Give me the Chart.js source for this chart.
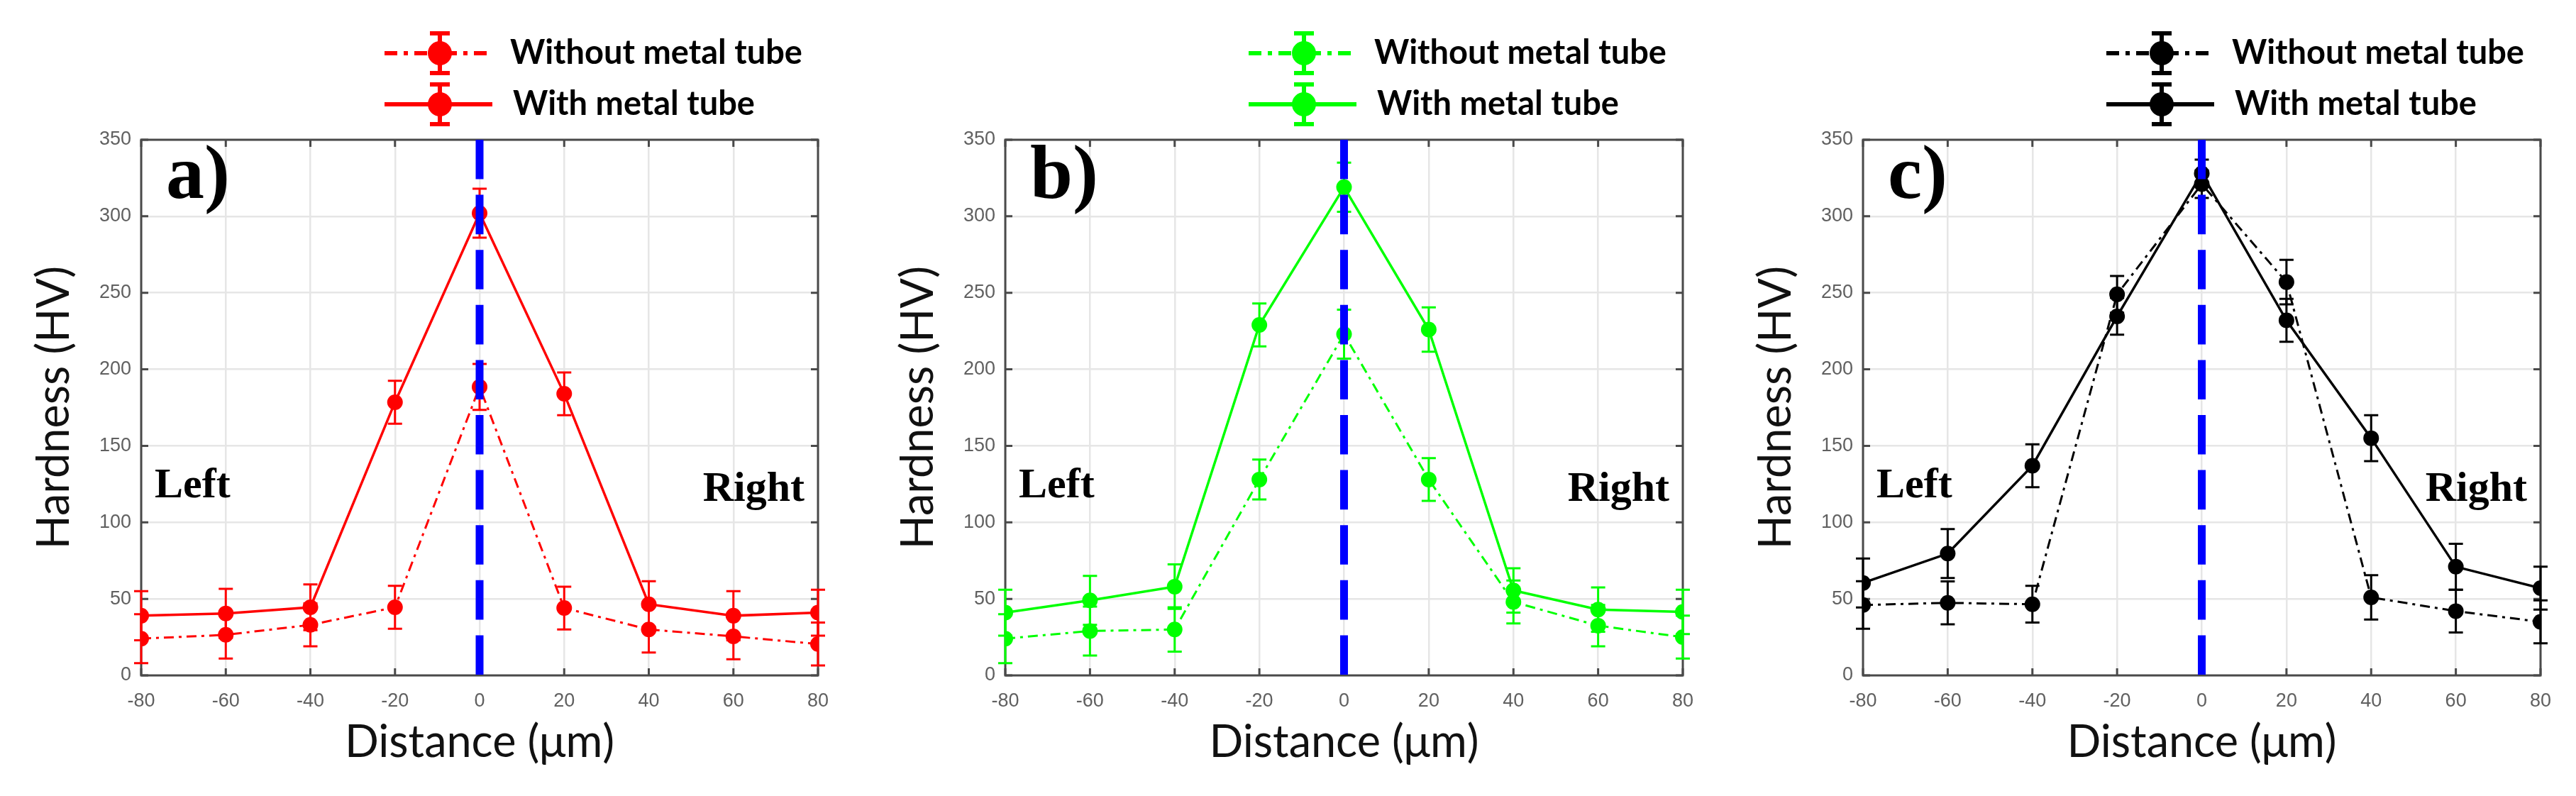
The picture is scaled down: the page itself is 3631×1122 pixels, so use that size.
<!DOCTYPE html>
<html lang="en">
<head>
    <meta charset="UTF-8">
    <title>Hardness profiles</title>
    <style>
        body { margin: 0; background: #fff; width: 3631px; height: 1122px; overflow: hidden; }
        .panel { position: absolute; top: 0; }
    </style>
</head>
<body>
    <canvas id="chartA" class="panel" width="1210" height="1122" style="left:0px"></canvas>
    <canvas id="chartB" class="panel" width="1210" height="1122" style="left:1210px"></canvas>
    <canvas id="chartC" class="panel" width="1211" height="1122" style="left:2420px"></canvas>

    <script src="https://cdn.jsdelivr.net/npm/chart.js@4"></script>
    <script>
        // --- data ---
        const distance = [-80, -60, -40, -20, 0, 20, 40, 60, 80];
        const xTicks = [-80, -60, -40, -20, 0, 20, 40, 60, 80];
        const yTicks = [0, 50, 100, 150, 200, 250, 300, 350];

        // a) red
        const withoutA = [24, 26.5, 33, 44.5, 188.5, 44, 30, 25.5, 20.5];
        const withoutErrA = [16, 15.5, 14, 14, 15, 14, 15, 15, 14];
        const withA = [39, 40.5, 44.5, 178.5, 302, 184, 46.5, 39, 41];
        const withErrA = [16, 16, 15, 14, 16, 14, 15, 16, 15];

        // b) green
        const withoutB = [24, 29, 30, 128, 223, 128, 48, 32.5, 25];
        const withoutErrB = [16, 16, 14.5, 13, 16, 14, 14, 13.5, 14];
        const withB = [41, 49, 58, 229, 319, 226, 55.5, 43, 41.5];
        const withErrB = [15, 16, 14.5, 14, 16, 14.5, 14.5, 14.5, 14.5];

        // c) black
        const withoutC = [46, 47.4, 46.5, 249, 321, 257, 51, 42, 35];
        const withoutErrC = [15.5, 14, 12, 12, 9, 14.5, 14.5, 14, 14];
        const withC = [60.4, 79.6, 137, 234.6, 328, 232, 155, 71, 57];
        const withErrC = [16, 16, 14, 12, 9, 14, 15, 15, 14];

        const panels = [
            { id: 'chartA', tag: 'a)', color: '#ff0000', without: withoutA, withoutErr: withoutErrA, with: withA, withErr: withErrA, yWidth: 199, padRight: 57 },
            { id: 'chartB', tag: 'b)', color: '#00ff00', without: withoutB, withoutErr: withoutErrB, with: withB, withErr: withErrB, yWidth: 207, padRight: 48 },
            { id: 'chartC', tag: 'c)', color: '#000000', without: withoutC, withoutErr: withoutErrC, with: withC, withErr: withErrC, yWidth: 206, padRight: 50 }
        ];

        const DASH_DOT = [14, 7, 4, 7];
        const SANS = 'Lato, "Open Sans", sans-serif';
        const SERIF = '"Liberation Serif", "DejaVu Serif", serif';

        // error bars, drawn right after their own dataset
        const errorBars = {
            id: 'errorBars',
            afterDatasetDraw(chart, args) {
                const ds = chart.data.datasets[args.index];
                if (!ds.errors) return;
                const { ctx, scales: { x, y } } = chart;
                ctx.save();
                ctx.strokeStyle = ds.borderColor;
                ctx.lineWidth = 3;
                ctx.setLineDash([]);
                ds.data.forEach((pt, j) => {
                    const px = x.getPixelForValue(pt.x);
                    const top = y.getPixelForValue(pt.y + ds.errors[j]);
                    const bot = y.getPixelForValue(pt.y - ds.errors[j]);
                    ctx.beginPath();
                    ctx.moveTo(px, top); ctx.lineTo(px, bot);
                    ctx.moveTo(px - 10, top); ctx.lineTo(px + 10, top);
                    ctx.moveTo(px - 10, bot); ctx.lineTo(px + 10, bot);
                    ctx.stroke();
                });
                ctx.restore();
            }
        };

        // matlab style box with inward ticks
        const axesBox = {
            id: 'axesBox',
            beforeDatasetsDraw(chart) {
                const { ctx, chartArea: a, scales: { x, y } } = chart;
                ctx.save();
                ctx.strokeStyle = '#4a4a4a';
                ctx.lineWidth = 3;
                ctx.beginPath();
                x.ticks.forEach(t => {
                    const px = x.getPixelForValue(t.value);
                    ctx.moveTo(px, a.bottom); ctx.lineTo(px, a.bottom - 10);
                    ctx.moveTo(px, a.top); ctx.lineTo(px, a.top + 10);
                });
                y.ticks.forEach(t => {
                    const py = y.getPixelForValue(t.value);
                    ctx.moveTo(a.left, py); ctx.lineTo(a.left + 10, py);
                    ctx.moveTo(a.right, py); ctx.lineTo(a.right - 10, py);
                });
                ctx.stroke();
                ctx.strokeRect(a.left, a.top, a.right - a.left, a.bottom - a.top);
                ctx.restore();
            }
        };

        // legend with error-bar symbols, and the a)/Left/Right texts
        const annotations = {
            id: 'annotations',
            afterDraw(chart, args, opts) {
                const { ctx, chartArea: a } = chart;
                ctx.save();
                const rows = chart.data.datasets.filter(d => d.label);
                rows.forEach((ds, i) => {
                    const cy = a.top - 122 + i * 72;
                    const x0 = a.left + 343, x1 = a.left + 495, cx = a.left + 421;
                    ctx.strokeStyle = ds.borderColor;
                    ctx.fillStyle = ds.borderColor;
                    ctx.lineWidth = 6;
                    ctx.setLineDash(ds.borderDash && ds.borderDash.length ? [18, 9, 6, 9] : []);
                    ctx.beginPath(); ctx.moveTo(x0, cy); ctx.lineTo(x1, cy); ctx.stroke();
                    ctx.setLineDash([]);
                    ctx.beginPath();
                    ctx.moveTo(cx, cy - 28); ctx.lineTo(cx, cy + 28);
                    ctx.moveTo(cx - 14, cy - 28); ctx.lineTo(cx + 14, cy - 28);
                    ctx.moveTo(cx - 14, cy + 28); ctx.lineTo(cx + 14, cy + 28);
                    ctx.stroke();
                    ctx.beginPath(); ctx.arc(cx, cy, 17, 0, Math.PI * 2); ctx.fill();
                    ctx.fillStyle = '#000';
                    ctx.font = 'bold 47px ' + SANS;
                    ctx.textAlign = 'left';
                    ctx.textBaseline = 'middle';
                    ctx.fillText(ds.label, a.left + 520 + i * 4, cy);
                });
                ctx.fillStyle = '#000';
                ctx.font = 'bold 108px ' + SERIF;
                ctx.textBaseline = 'alphabetic';
                ctx.textAlign = 'left';
                ctx.fillText(opts.tag, a.left + 35, a.top + 82);
                ctx.font = 'bold 60px ' + SERIF;
                ctx.textBaseline = 'middle';
                ctx.fillText('Left', a.left + 19, 685);
                ctx.textAlign = 'right';
                ctx.fillText('Right', a.right - 19, 690);
                ctx.restore();
            }
        };

        const toPoints = vals => distance.map((d, i) => ({ x: d, y: vals[i] }));

        panels.forEach(p => {
            const ctx = document.getElementById(p.id).getContext('2d');
            new Chart(ctx, {
                type: 'line',
                data: {
                    datasets: [
                        {
                            label: 'Without metal tube',
                            data: toPoints(p.without),
                            errors: p.withoutErr,
                            borderColor: p.color,
                            backgroundColor: p.color,
                            borderWidth: 3,
                            borderDash: DASH_DOT,
                            pointRadius: 11,
                            pointBorderWidth: 0,
                            order: 1
                        },
                        {
                            label: 'With metal tube',
                            data: toPoints(p.with),
                            errors: p.withErr,
                            borderColor: p.color,
                            backgroundColor: p.color,
                            borderWidth: 3.5,
                            pointRadius: 11,
                            pointBorderWidth: 0,
                            order: 1
                        },
                        {
                            data: [{ x: 0, y: 350 }, { x: 0, y: 0 }],
                            borderColor: '#0000ff',
                            borderWidth: 11,
                            borderDash: [55.6, 22],
                            pointRadius: 0,
                            order: 0
                        }
                    ]
                },
                options: {
                    responsive: false,
                    animation: false,
                    devicePixelRatio: 1,
                    layout: { padding: { top: 197, right: p.padRight, left: 0, bottom: 0 } },
                    plugins: {
                        legend: { display: false },
                        tooltip: { enabled: false },
                        annotations: { tag: p.tag }
                    },
                    scales: {
                        x: {
                            type: 'linear',
                            min: -80, max: 80,
                            afterBuildTicks: s => { s.ticks = xTicks.map(v => ({ value: v })); },
                            afterFit: s => { s.height = 170; },
                            grid: { color: '#e6e6e6', lineWidth: 2.5, drawTicks: false },
                            border: { display: false },
                            ticks: { color: '#606060', padding: 20, font: { family: '"Liberation Sans", Arial, sans-serif', size: 27 } },
                            title: { display: true, text: 'Distance (\u03bcm)', color: '#111', padding: { bottom: 38 }, font: { family: SANS, size: 63, lineHeight: 1.2 } }
                        },
                        y: {
                            min: 0, max: 350,
                            afterBuildTicks: s => { s.ticks = yTicks.map(v => ({ value: v })); },
                            afterFit: s => { s.width = p.yWidth; },
                            grid: { color: '#e6e6e6', lineWidth: 2.5, drawTicks: false },
                            border: { display: false },
                            ticks: { color: '#606060', padding: 14, font: { family: '"Liberation Sans", Arial, sans-serif', size: 27 } },
                            title: { display: true, text: 'Hardness (HV)', color: '#111', padding: { top: p.yWidth - 122 - 38 }, font: { family: SANS, size: 63, lineHeight: 1.2 } }
                        }
                    }
                },
                plugins: [errorBars, axesBox, annotations]
            });
        });
    </script>
</body>
</html>
